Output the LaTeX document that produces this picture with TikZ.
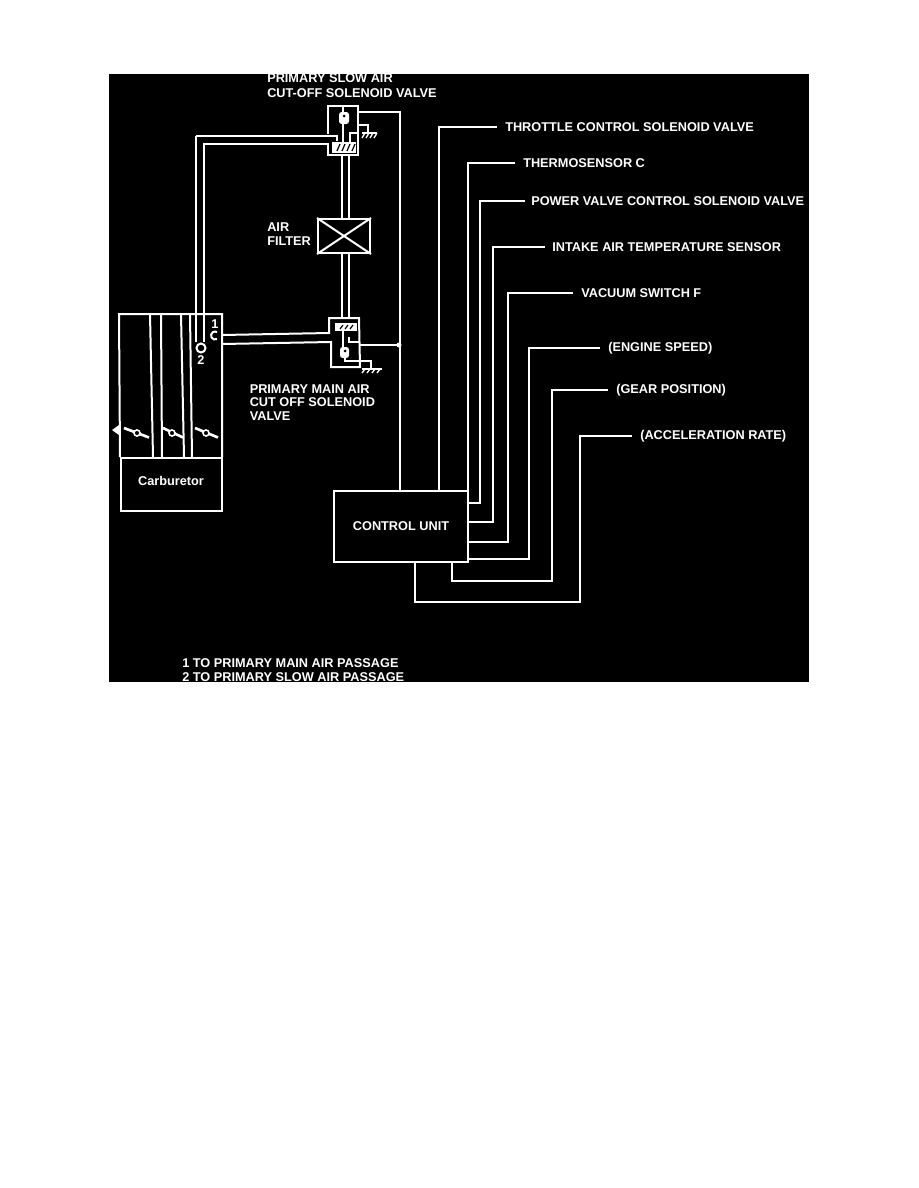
\documentclass[tikz,border=0pt]{standalone}
\usepackage{fontspec}
\setmainfont{Liberation Sans}
\usetikzlibrary{positioning}
\tikzset{
	wire/.style={draw=white, line width=1.5pt, line join=miter},
	lbl/.style={text=white, font=\bfseries\fontsize{9.55}{11}\selectfont, inner sep=0pt, anchor=west, align=left},
	boxnode/.style={draw=white, line width=1.5pt, inner sep=0pt, text=white, font=\bfseries\fontsize{9.55}{11}\selectfont}
}
\begin{document}
\begin{tikzpicture}[x=0.75pt,y=-0.75pt]
	\useasboundingbox (0,0) rectangle (918,1188);
	\fill[black] (109,74) rectangle (809,682);
	% labels
	\node[lbl] (slow) at (267,85.5) {PRIMARY SLOW AIR\\CUT-OFF SOLENOID VALVE};
	\node[lbl] (filterlbl) at (267,234) {AIR\\FILTER};
	\node[lbl] (main) at (249.5,402.5) {PRIMARY MAIN AIR\\[-0.8pt]CUT OFF SOLENOID\\[-0.8pt]VALVE};
	\node[lbl] (legend) at (182,670) {1 TO PRIMARY MAIN AIR PASSAGE\\2 TO PRIMARY SLOW AIR PASSAGE};
	\node[lbl] (throttle) at (505,127) {THROTTLE CONTROL SOLENOID VALVE};
	\node[lbl] (thermo) at (523,163) {THERMOSENSOR C};
	\node[lbl] (power) at (531,201) {POWER VALVE CONTROL SOLENOID VALVE};
	\node[lbl] (intake) at (552,247) {INTAKE AIR TEMPERATURE SENSOR};
	\node[lbl] (vacuum) at (581,293) {VACUUM SWITCH F};
	\node[lbl] (engine) at (608,348) {(ENGINE SPEED)};
	\node[lbl] (gear) at (616,390) {(GEAR POSITION)};
	\node[lbl] (accel) at (640,436) {(ACCELERATION RATE)};
	\node[lbl] (one) at (211,324) {1};
	\node[lbl] (two) at (197,360) {2};
	% boxes
	\node[boxnode, minimum width=134*0.75pt, minimum height=71*0.75pt] (unit) at (401,526.5) {CONTROL UNIT};
	\node[boxnode, minimum width=101*0.75pt, minimum height=53*0.75pt] (carb) at (171.5,484) {};
	\node[lbl, anchor=center] (carbname) at (171,481) {Carburetor};
	\node[boxnode, minimum width=52*0.75pt, minimum height=34*0.75pt] (filter) at (344,236) {};
	\draw[wire] (filter.north west) -- (filter.south east) (filter.north east) -- (filter.south west);
	% control unit wires
	\coordinate (u1) at (400,491);
	\coordinate (u2) at (439,491);
	\coordinate (u3) at (468,491);
	\coordinate (u4) at (468,503);
	\coordinate (u5) at (468,522);
	\coordinate (u6) at (468,542);
	\coordinate (u7) at (468,559);
	\coordinate (u8) at (452,562);
	\coordinate (u9) at (415,562);
	\draw[wire] (throttle.west) ++(-8,0) -| (u2);
	\draw[wire] (thermo.west) ++(-8,0) -| (u3);
	\draw[wire] (power.west) ++(-6,0) -| (480,503) -- (u4);
	\draw[wire] (intake.west) ++(-7,0) -| (493,522) -- (u5);
	\draw[wire] (vacuum.west) ++(-8,0) -| (508,542) -- (u6);
	\draw[wire] (engine.west) ++(-8,0) -| (529,559) -- (u7);
	\draw[wire] (gear.west) ++(-8,0) -| (552,581) -- (452,581) -- (u8);
	\draw[wire] (accel.west) ++(-8,0) -| (580,602) -- (415,602) -- (u9);
	\draw[wire] (358,112) -| (u1);
	\draw[wire] (359,345) -- (399,345);
	\fill[white] (399,345) circle (2.5);
	% top valve
	\draw[wire] (328,134) |- (358,106) -- (358,155) -- (328,155) -- (328,144) -- (204,144) -- (204,342);
	\draw[wire] (196,136) -- (337,136) -- (337,141);
	\draw[wire] (196,136) -- (196,342);
	\draw[wire, fill=white] (333,143) rectangle (355,152);
	\foreach \x in {337,342,347,352}
		\draw[black, line width=0.9pt] (\x,151) -- (\x+3,144);
	\draw[wire] (343,106) -- (343,143);
	\fill[white, rounded corners=2pt] (339,112) rectangle (349,124);
	\fill[black] (344,116) circle (1.5);
	\draw[wire] (350,143) |- (358,133);
	\draw[wire] (358,125) -| (368,133);
	\draw[white, line width=1.2pt] (362,133) -- (377,133);
	\foreach \x in {365,369,373,377}
		\draw[white, line width=1pt] (\x,133) -- (\x-3,138);
	\draw[wire] (342,156) -- (342,218) (349,156) -- (349,218);
	% bottom valve
	\draw[wire] (342,254) -- (342,318) (349,254) -- (349,318);
	\draw[wire] (222,335) -- (329,333) -- (329,318) -- (359,318) -- (360,367) -- (331,367) -- (331,342) -- (222,344);
	\draw[wire, fill=white] (336,324) rectangle (356,330);
	\foreach \x in {340,345,350}
		\draw[black, line width=0.9pt] (\x,329) -- (\x+3,325);
	\draw[wire] (343,330) -- (343,347);
	\draw[wire] (349,337) |- (359,342);
	\fill[white, rounded corners=2pt] (340,347) rectangle (349,358);
	\fill[black] (345,351) circle (1.5);
	\draw[wire] (345,358) -- (345,361) -- (371,361) -- (371,369);
	\draw[white, line width=1.2pt] (362,369) -- (382,369);
	\foreach \x in {365,370,375,380}
		\draw[white, line width=1pt] (\x,369) -- (\x-3,373);
	% carburetor
	\draw[wire] (120,457) -- (119,314) -- (222,314) -- (222,457);
	\draw[wire] (150,314) -- (153,457);
	\draw[wire] (161,314) -- (162,457);
	\draw[wire] (181,314) -- (184,457);
	\draw[wire] (190,314) -- (192,457);
	\draw[wire] (201,348) circle (4.5);
	\draw[wire] (217,339) arc (60:300:4);
	\fill[white] (112,430) -- (119,425) -- (119,435) -- cycle;
	\foreach \x/\a/\b in {137/124/149,172/163/183,206/195/218}{
		\draw[white, line width=2pt] (\a,428) -- (\b,437.5);
		\draw[white, line width=1.2pt, fill=black] (\x,433) circle (3);
	}
\end{tikzpicture}
\end{document}
